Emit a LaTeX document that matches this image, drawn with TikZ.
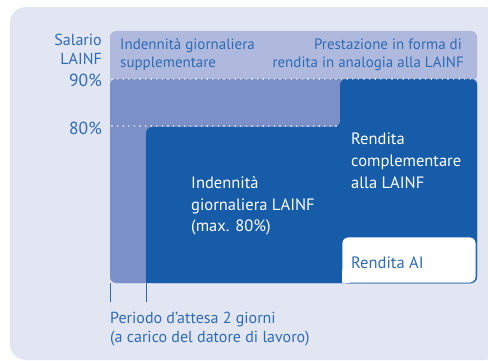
\documentclass[tikz,border=0pt]{standalone}
\usepackage{fontspec}
\setmainfont{PT Sans}
\definecolor{bgc}{HTML}{E2E6F2}
\definecolor{bandc}{HTML}{AEB9DD}
\definecolor{midc}{HTML}{7B90C8}
\definecolor{darkc}{HTML}{165CA9}
\definecolor{txtc}{HTML}{2E6BB3}
\begin{document}
\begin{tikzpicture}[x=1pt,y=-1pt,
  lbl/.style={inner sep=0pt,text=txtc,font=\fontsize{16}{19}\selectfont},
  pctlbl/.style={inner sep=0pt,text=txtc,font=\fontsize{17.5}{19}\selectfont},
  bandlbl/.style={inner sep=0pt,text=txtc,font=\fontsize{15}{18}\selectfont},
  inlbl/.style={inner sep=0pt,text=white,font=\fontsize{16.5}{21.5}\selectfont},
  dotline/.style={white,line width=1.6pt,line cap=round,dash pattern=on 0pt off 5.6pt},
  tick/.style={txtc,line width=0.6pt}]
\useasboundingbox (0,0) rectangle (488,361);
\fill[bgc,rounded corners=16pt] (10,7) rectangle (500,360);
% band
\fill[bandc,rounded corners=6pt] (110,31) rectangle (477,283);
% medium
\fill[midc,rounded corners=6pt] (110,79) rectangle (477,283);
% dark
\fill[darkc,rounded corners=6pt] (146,283) -- (146,127) -- (340,127) -- (340,79) -- (477,79) -- (477,283) -- cycle;
\fill[darkc] (146,270) rectangle (160,283);
% Rendita AI box
\draw[darkc,fill=white,line width=0.8pt,rounded corners=6pt] (342,283) -- (342,237) -- (476,237) -- (476,283) -- cycle;
\fill[white] (342.4,270) rectangle (350,282.6);
% dotted lines
\draw[dotline] (112,79) -- (477,79);
\draw[dotline] (112,126) -- (336,126);
% ticks
\coordinate (t1a) at (110,283); \coordinate (t1b) at (110,302);
\coordinate (t2a) at (146,283); \coordinate (t2b) at (146,302);
\draw[tick] (t1a) -- (t1b);
\draw[tick] (t2a) -- (t2b);
% labels
\node[lbl,anchor=base east] (sal) at (102,46) {Salario};
\node[lbl,anchor=base east] (lainf) at (102,65) {LAINF};
\node[pctlbl,anchor=base east] (p90) at (102,87) {90\%};
\node[pctlbl,anchor=base east] (p80) at (102,135) {80\%};
\node[bandlbl,anchor=base west] (ig1) at (120,50) {Indennità giornaliera};
\node[bandlbl,anchor=base west] (ig2) at (120,68) {supplementare};
\node[bandlbl,anchor=base east] (pr1) at (462,50) {Prestazione in forma di};
\node[bandlbl,anchor=base east] (pr2) at (464,68) {rendita in analogia alla LAINF};
\node[inlbl,anchor=base west] (il1) at (191,188) {Indennità};
\node[inlbl,anchor=base west] (il2) at (191,210) {giornaliera LAINF};
\node[inlbl,anchor=base west] (il3) at (191,231) {(max. 80\%)};
\node[inlbl,anchor=base west] (rc1) at (351,145) {Rendita};
\node[inlbl,anchor=base west] (rc2) at (351,167) {complementare};
\node[inlbl,anchor=base west] (rc3) at (351,188) {alla LAINF};
\node[inlbl,text=txtc,anchor=base west] (rai) at (351,268) {Rendita AI};
\node[lbl,anchor=base west] (pe1) at (110,323) {Periodo d’attesa 2 giorni};
\node[lbl,anchor=base west] (pe2) at (110,342) {(a carico del datore di lavoro)};
\end{tikzpicture}
\end{document}
